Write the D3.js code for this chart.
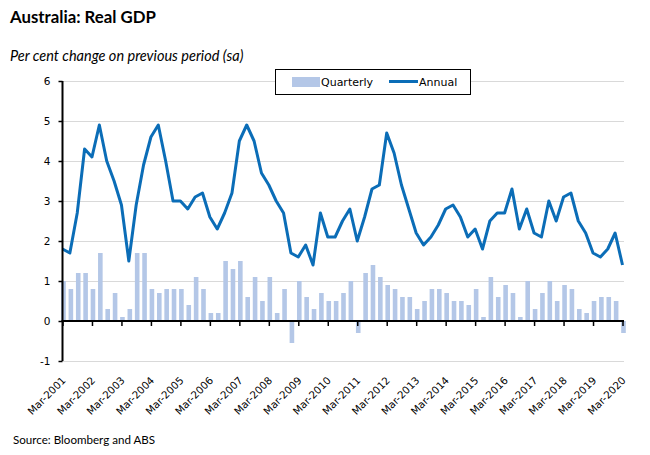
<!DOCTYPE html>
<html>
<head>
<meta charset="utf-8">
<script src="https://cdn.jsdelivr.net/npm/d3@7"></script>
<style>
  body { margin: 0; background: #fff; }
  text { fill: #000; }
</style>
</head>
<body>
<svg id="chart" width="650" height="455"></svg>
<script>
// Quarter labels, Mar-2001 .. Mar-2020
const years = d3.range(2001, 2021);
const quarterNames = ["Mar", "Jun", "Sep", "Dec"];
const periods = years.flatMap(y => quarterNames.map(q => `${q}-${y}`)).slice(0, 77);

// Per cent change on previous quarter (bars)
const quarterly = [
  1.0, 0.8, 1.2, 1.2,
  0.8, 1.7, 0.3, 0.7,
  0.1, 0.3, 1.7, 1.7,
  0.8, 0.7, 0.8, 0.8,
  0.8, 0.4, 1.1, 0.8,
  0.2, 0.2, 1.5, 1.3,
  1.5, 0.6, 1.1, 0.5,
  1.1, 0.2, 0.8, -0.55,
  1.0, 0.6, 0.3, 0.7,
  0.5, 0.5, 0.7, 1.0,
  -0.3, 1.2, 1.4, 1.1,
  0.9, 0.8, 0.6, 0.6,
  0.3, 0.5, 0.8, 0.8,
  0.7, 0.5, 0.5, 0.4,
  0.8, 0.1, 1.1, 0.6,
  0.9, 0.7, 0.1, 1.0,
  0.3, 0.7, 1.0, 0.5,
  0.9, 0.8, 0.3, 0.2,
  0.5, 0.6, 0.6, 0.5,
  -0.3
];

// Per cent change on same quarter a year earlier (line)
const annual = [
  1.8, 1.7, 2.7, 4.3,
  4.1, 4.9, 4.0, 3.5,
  2.9, 1.5, 2.9, 3.9,
  4.6, 4.9, 4.0, 3.0,
  3.0, 2.8, 3.1, 3.2,
  2.6, 2.3, 2.7, 3.2,
  4.5, 4.9, 4.5, 3.7,
  3.4, 3.0, 2.7, 1.7,
  1.6, 1.9, 1.4, 2.7,
  2.1, 2.1, 2.5, 2.8,
  2.0, 2.6, 3.3, 3.4,
  4.7, 4.2, 3.4, 2.8,
  2.2, 1.9, 2.1, 2.4,
  2.8, 2.9, 2.6, 2.1,
  2.3, 1.8, 2.5, 2.7,
  2.7, 3.3, 2.3, 2.8,
  2.2, 2.1, 3.0, 2.5,
  3.1, 3.2, 2.5, 2.2,
  1.7, 1.6, 1.8, 2.2,
  1.4
];

const yTicks = [-1, 0, 1, 2, 3, 4, 5, 6];
const xTickLabels = periods.filter(p => p.startsWith("Mar"));

const barColor = "#b4c7e7";
const lineColor = "#0b6db7";
const calibriLike = "Lato, 'Open Sans', sans-serif";
const verdanaLike = "'DejaVu Sans', Verdana, sans-serif";

const plot = { left: 62.5, right: 624, top: 81, bottom: 361 };

const svg = d3.select("#chart");

const x = d3.scalePoint()
    .domain(periods)
    .range([62.5, 622.5]);

const y = d3.scaleLinear()
    .domain([-1, 6])
    .range([plot.bottom, plot.top]);

// Gridlines
svg.append("g")
    .selectAll("line")
    .data(yTicks.filter(t => t !== 0))
    .join("line")
    .attr("x1", plot.left)
    .attr("x2", plot.right)
    .attr("y1", d => Math.round(y(d)) + 0.5)
    .attr("y2", d => Math.round(y(d)) + 0.5)
    .attr("stroke", "#d9d9d9")
    .attr("stroke-width", 1);

// Quarterly bars
const barWidth = 4.6;
svg.append("g")
    .selectAll("rect")
    .data(quarterly)
    .join("rect")
    .attr("x", (d, i) => x(periods[i]) - barWidth / 2 + 1)
    .attr("width", barWidth)
    .attr("y", d => y(Math.max(0, d)))
    .attr("height", d => Math.abs(y(d) - y(0)))
    .attr("fill", barColor);

// Annual line
const line = d3.line()
    .x((d, i) => x(periods[i]))
    .y(d => y(d));

svg.append("path")
    .datum(annual)
    .attr("fill", "none")
    .attr("stroke", lineColor)
    .attr("stroke-width", 3)
    .attr("stroke-linejoin", "round")
    .attr("d", line);

// Y axis
const yAxis = svg.append("g")
    .attr("transform", `translate(${plot.left},0)`)
    .call(d3.axisLeft(y).tickValues(yTicks).tickSize(4).tickPadding(8).tickFormat(d => String(d)));
yAxis.select(".domain").attr("stroke", "#000").attr("stroke-width", 2)
    .attr("d", `M0,${plot.top}V${plot.bottom}`);
yAxis.selectAll(".tick line").attr("stroke", "#000").attr("stroke-width", 1.5);
yAxis.selectAll(".tick text")
    .attr("font-family", verdanaLike)
    .attr("font-size", 10.5)
    .attr("dy", "0.36em");

// X axis at zero, ticks only (labels go below the plot)
const xAxis = svg.append("g")
    .attr("transform", `translate(0,${y(0)})`)
    .call(d3.axisBottom(x).tickValues(xTickLabels).tickSize(5).tickFormat(""));
xAxis.select(".domain").attr("stroke", "#000").attr("stroke-width", 2)
    .attr("d", `M${plot.left - 1},0H${plot.right}`);
xAxis.selectAll(".tick line").attr("stroke", "#000").attr("stroke-width", 1.5);

// Rotated category labels at the bottom
svg.append("g")
    .selectAll("text")
    .data(xTickLabels)
    .join("text")
    .attr("transform", d => `translate(${x(d) + 4},381) rotate(-45)`)
    .attr("text-anchor", "end")
    .attr("font-family", verdanaLike)
    .attr("font-size", 10.3)
    .text(d => d);

// Legend
const legend = svg.append("g");
legend.append("rect")
    .attr("x", 275.5).attr("y", 69.5)
    .attr("width", 195).attr("height", 25)
    .attr("fill", "#fff")
    .attr("stroke", "#000")
    .attr("stroke-width", 1);
legend.append("rect")
    .attr("x", 292).attr("y", 77)
    .attr("width", 28).attr("height", 10)
    .attr("fill", barColor);
legend.append("text")
    .attr("x", 321).attr("y", 86)
    .attr("font-family", verdanaLike)
    .attr("font-size", 11)
    .text("Quarterly");
legend.append("line")
    .attr("x1", 389).attr("x2", 418)
    .attr("y1", 81.5).attr("y2", 81.5)
    .attr("stroke", lineColor)
    .attr("stroke-width", 3);
legend.append("text")
    .attr("x", 419).attr("y", 86)
    .attr("font-family", verdanaLike)
    .attr("font-size", 11)
    .text("Annual");

// Titles
svg.append("text")
    .attr("x", 10).attr("y", 22.5)
    .attr("font-family", calibriLike)
    .attr("font-weight", "bold")
    .attr("font-size", 16.8)
    .text("Australia: Real GDP");

svg.append("text")
    .attr("x", 10).attr("y", 61)
    .attr("font-family", calibriLike)
    .attr("font-style", "italic")
    .attr("font-size", 14.5)
    .text("Per cent change on previous period (sa)");

svg.append("text")
    .attr("x", 13).attr("y", 444)
    .attr("font-family", calibriLike)
    .attr("font-size", 11.6)
    .text("Source: Bloomberg and ABS");
</script>
</body>
</html>
